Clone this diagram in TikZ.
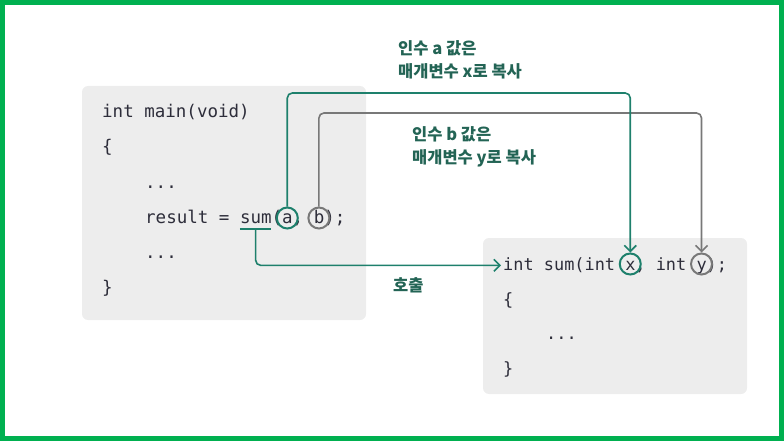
\documentclass[tikz,border=0pt]{standalone}
\usepackage{fontspec}
\setmonofont{DejaVu Sans Mono}
\newfontfamily\krfont{Noto Sans CJK KR}
\usetikzlibrary{arrows.meta,calc}
\definecolor{framegreen}{RGB}{0,176,80}
\definecolor{boxfill}{RGB}{237,237,237}
\definecolor{codecol}{RGB}{45,45,58}
\definecolor{tealline}{RGB}{30,128,108}
\definecolor{labcol}{RGB}{35,100,85}
\definecolor{grayline}{RGB}{120,120,120}
\begin{document}
\begin{tikzpicture}[x=1pt,y=-1pt,
  codebox/.style={fill=boxfill, rounded corners=6pt},
  codeline/.style={anchor=base west, inner sep=0pt, font=\ttfamily\fontsize{17.5}{20}\selectfont, text=codecol},
  codelinetwo/.style={codeline, font=\ttfamily\fontsize{16.9}{20}\selectfont},
  lab/.style={anchor=base west, inner sep=0pt, font=\krfont\bfseries\fontsize{16.5}{20}\selectfont, text=labcol},
  ring/.style={circle, draw=#1, line width=2pt, minimum size=21pt, inner sep=0pt},
  conn/.style={draw=#1, line width=1.6pt, rounded corners=5pt},
  tip/.style={-{Straight Barb[length=6pt,width=12pt]}}
]
\useasboundingbox (0,0) rectangle (784,441);
\draw[framegreen, line width=5pt] (2.5,2.5) rectangle (781.5,438.5);
\path[codebox] (82,86) rectangle (366,320);
\path[codebox] (483,238) rectangle (747,394);
\def\cwa{10.54}
\def\cwb{10.18}
% main code
\node[codeline] (m1) at (102,118) {int main(void)};
\node[codeline] (m2) at (102,153) {\{};
\node[codeline] (m3) at (145,188) {...};
\node[codeline] (m4) at (145,223) {result = sum(a, b);};
\node[codeline] (m5) at (145,258) {...};
\node[codeline] (m6) at (102,293) {\}};
% sum code
\node[codelinetwo] (s1) at (503,270) {int sum(int x, int y);};
\node[codelinetwo] (s2) at (503,305) {\{};
\node[codelinetwo] (s3) at (546,339) {...};
\node[codelinetwo] (s4) at (503,374) {\}};
% labels
\node[lab] (l1a) at (398,55) {인수 a 값은};
\node[lab] (l1b) at (398,78) {매개변수 x로 복사};
\node[lab] (l2a) at (412,140) {인수 b 값은};
\node[lab] (l2b) at (412,163) {매개변수 y로 복사};
\node[lab] (call) at (393,291) {호출};
% rings
\node[ring=tealline] (ca) at ($(m4.base west)+(13.5*\cwa,-5)$) {};
\node[ring=grayline] (cb) at ($(m4.base west)+(16.5*\cwa,-5)$) {};
\node[ring=tealline] (cx) at ($(s1.base west)+(12.5*\cwb,-6)$) {};
\node[ring=grayline] (cy) at ($(s1.base west)+(19.5*\cwb,-6)$) {};
% underline of sum
\coordinate (u1) at ($(m4.base west)+(9*\cwa,6)$);
\coordinate (u2) at ($(m4.base west)+(12*\cwa,6)$);
\coordinate (um) at ($(u1)!0.5!(u2)$);
\draw[tealline, line width=1.6pt] (u1) -- (u2);
% connectors
\coordinate (gtop) at (0,93);
\coordinate (btop) at (0,113);
\draw[conn=grayline, tip] (cb.north) -- (cb.north |- btop) -| (cy.north);
\draw[conn=tealline, tip] (ca.north) -- (ca.north |- gtop) -| (cx.north);
\draw[conn=tealline, tip] (um) |- ([xshift=-2pt]s1.west);
\end{tikzpicture}
\end{document}
